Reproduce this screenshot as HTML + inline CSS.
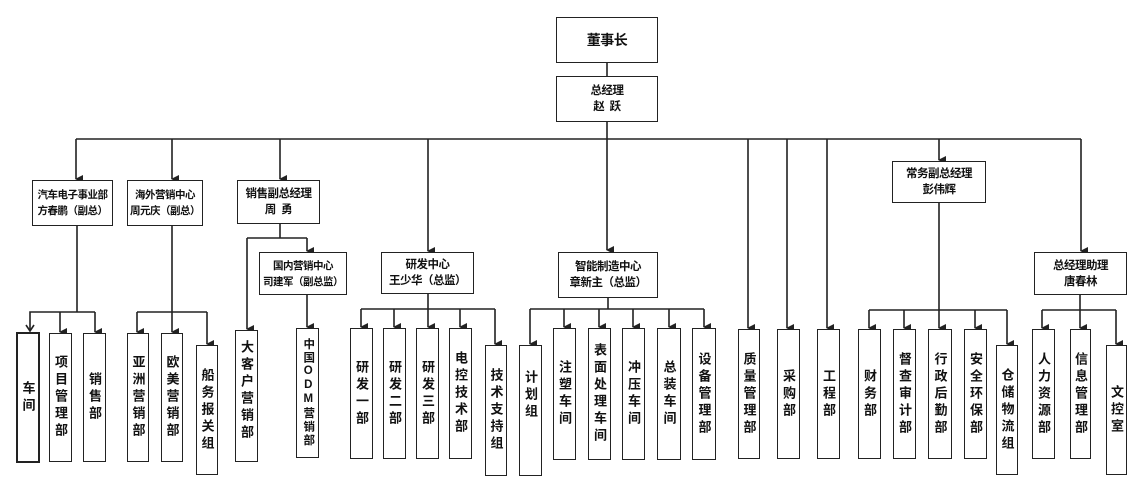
<!DOCTYPE html>
<html><head><meta charset="utf-8"><style>
body{margin:0;width:1145px;height:494px;background:#fff;position:relative;overflow:hidden;font-family:"Liberation Sans","Noto Sans CJK SC",sans-serif;color:#111}
svg{position:absolute;left:0;top:0}
.h{position:absolute;border:1.6px solid #222;box-sizing:border-box;display:flex;flex-direction:column;align-items:center;justify-content:center;font-size:11.5px;font-weight:bold;line-height:16px;text-align:center;background:#fff;white-space:nowrap;letter-spacing:-0.5px}
.l{position:absolute;border:1.6px solid #222;box-sizing:border-box;display:flex;align-items:center;justify-content:center;background:#fff}
.l span{writing-mode:vertical-rl;text-orientation:upright;font-size:13px;font-weight:bold;letter-spacing:4px;line-height:1}
</style></head><body>
<svg width="1145" height="494" viewBox="0 0 1145 494">
<defs><marker id="a" markerWidth="8" markerHeight="8" refX="4" refY="7" orient="auto" markerUnits="userSpaceOnUse"><path d="M0,0 L8,0 L4,8 z" fill="#222"/></marker></defs>
<g stroke="#222" stroke-width="1.6" fill="none">
<line x1="607" y1="63" x2="607" y2="76"/>
<line x1="607" y1="122" x2="607" y2="250" marker-end="url(#a)"/>
<line x1="76" y1="139" x2="1081" y2="139"/>
<line x1="76" y1="139" x2="76" y2="179" marker-end="url(#a)"/>
<line x1="172" y1="139" x2="172" y2="179" marker-end="url(#a)"/>
<line x1="280" y1="139" x2="280" y2="179" marker-end="url(#a)"/>
<line x1="428" y1="139" x2="428" y2="251" marker-end="url(#a)"/>
<line x1="748" y1="139" x2="748" y2="328" marker-end="url(#a)"/>
<line x1="787" y1="139" x2="787" y2="328" marker-end="url(#a)"/>
<line x1="827" y1="139" x2="827" y2="328" marker-end="url(#a)"/>
<line x1="939" y1="139" x2="939" y2="160" marker-end="url(#a)"/>
<line x1="1081" y1="139" x2="1081" y2="251" marker-end="url(#a)"/>
<line x1="77" y1="226" x2="77" y2="312"/>
<polyline points="30,331 30,312 95,312"/>
<path d="M26,325 L30,331 L34,325"/>
<line x1="60" y1="312" x2="60" y2="332" marker-end="url(#a)"/>
<line x1="95" y1="312" x2="95" y2="332" marker-end="url(#a)"/>
<line x1="172" y1="226" x2="172" y2="312"/>
<line x1="137" y1="312" x2="207" y2="312"/>
<line x1="137" y1="312" x2="137" y2="332" marker-end="url(#a)"/>
<line x1="172" y1="312" x2="172" y2="332" marker-end="url(#a)"/>
<line x1="207" y1="312" x2="207" y2="344" marker-end="url(#a)"/>
<line x1="280" y1="224" x2="280" y2="238"/>
<line x1="247" y1="238" x2="307" y2="238"/>
<line x1="247" y1="238" x2="247" y2="329" marker-end="url(#a)"/>
<line x1="307" y1="238" x2="307" y2="251" marker-end="url(#a)"/>
<line x1="307" y1="295" x2="307" y2="327" marker-end="url(#a)"/>
<line x1="428" y1="294" x2="428" y2="309"/>
<line x1="361" y1="309" x2="495" y2="309"/>
<line x1="361" y1="309" x2="361" y2="327" marker-end="url(#a)"/>
<line x1="394" y1="309" x2="394" y2="327" marker-end="url(#a)"/>
<line x1="428" y1="309" x2="428" y2="327" marker-end="url(#a)"/>
<line x1="460" y1="309" x2="460" y2="327" marker-end="url(#a)"/>
<line x1="495" y1="309" x2="495" y2="344" marker-end="url(#a)"/>
<line x1="608" y1="298" x2="608" y2="309"/>
<line x1="530" y1="309" x2="704" y2="309"/>
<line x1="530" y1="309" x2="530" y2="344" marker-end="url(#a)"/>
<line x1="564" y1="309" x2="564" y2="327" marker-end="url(#a)"/>
<line x1="599" y1="309" x2="599" y2="327" marker-end="url(#a)"/>
<line x1="633" y1="309" x2="633" y2="327" marker-end="url(#a)"/>
<line x1="669" y1="309" x2="669" y2="327" marker-end="url(#a)"/>
<line x1="704" y1="309" x2="704" y2="327" marker-end="url(#a)"/>
<line x1="939" y1="203" x2="939" y2="328" marker-end="url(#a)"/>
<line x1="869" y1="310" x2="1007" y2="310"/>
<line x1="869" y1="310" x2="869" y2="328" marker-end="url(#a)"/>
<line x1="904" y1="310" x2="904" y2="328" marker-end="url(#a)"/>
<line x1="975" y1="310" x2="975" y2="328" marker-end="url(#a)"/>
<line x1="1007" y1="310" x2="1007" y2="344" marker-end="url(#a)"/>
<line x1="1080" y1="295" x2="1080" y2="310"/>
<line x1="1042" y1="310" x2="1116" y2="310"/>
<line x1="1042" y1="310" x2="1042" y2="328" marker-end="url(#a)"/>
<line x1="1080" y1="310" x2="1080" y2="328" marker-end="url(#a)"/>
<line x1="1116" y1="310" x2="1116" y2="344" marker-end="url(#a)"/>
</g></svg>

<div class="h" style="left:556px;top:17px;width:102px;height:46px;font-size:14px">董事长</div>
<div class="h" style="left:556px;top:76px;width:102px;height:46px">总经理<br>赵&nbsp;&nbsp;跃</div>
<div class="h" style="left:32px;top:180px;width:81px;height:46px;font-size:10.5px">汽车电子事业部<br>方春鹏（副总）</div>
<div class="h" style="left:127px;top:180px;width:76px;height:46px;font-size:10.5px">海外营销中心<br>周元庆（副总）</div>
<div class="h" style="left:237px;top:180px;width:83px;height:44px">销售副总经理<br>周&nbsp;&nbsp;勇</div>
<div class="h" style="left:259px;top:252px;width:88px;height:43px;font-size:10.5px">国内营销中心<br>司建军（副总监）</div>
<div class="h" style="left:381px;top:252px;width:93px;height:42px">研发中心<br>王少华（总监）</div>
<div class="h" style="left:558px;top:252px;width:100px;height:46px">智能制造中心<br>章新主（总监）</div>
<div class="h" style="left:892px;top:161px;width:94px;height:42px">常务副总经理<br>彭伟辉</div>
<div class="h" style="left:1034px;top:252px;width:93px;height:43px">总经理助理<br>唐春林</div>

<div class="l" style="left:16px;top:332px;width:24px;height:131px;border-width:2.4px"><span>车间</span></div>
<div class="l" style="left:49px;top:333px;width:23px;height:129px"><span>项目管理部</span></div>
<div class="l" style="left:83px;top:333px;width:23px;height:129px"><span>销售部</span></div>
<div class="l" style="left:127px;top:333px;width:22px;height:129px"><span>亚洲营销部</span></div>
<div class="l" style="left:161px;top:333px;width:22px;height:129px"><span>欧美营销部</span></div>
<div class="l" style="left:196px;top:345px;width:22px;height:130px"><span>船务报关组</span></div>
<div class="l" style="left:235px;top:330px;width:23px;height:132px"><span style="margin-bottom:10px">大客户营销部</span></div>
<div class="l" style="left:296px;top:328px;width:23px;height:130px"><span style="letter-spacing:2px;font-size:11.5px">中国ODM营销部</span></div>
<div class="l" style="left:350px;top:328px;width:23px;height:131px"><span>研发一部</span></div>
<div class="l" style="left:383px;top:328px;width:23px;height:131px"><span>研发二部</span></div>
<div class="l" style="left:416px;top:328px;width:23px;height:131px"><span>研发三部</span></div>
<div class="l" style="left:449px;top:328px;width:23px;height:131px"><span>电控技术部</span></div>
<div class="l" style="left:485px;top:345px;width:22px;height:131px"><span>技术支持组</span></div>
<div class="l" style="left:519px;top:345px;width:23px;height:131px"><span style="margin-bottom:30px">计划组</span></div>
<div class="l" style="left:553px;top:328px;width:23px;height:132px"><span>注塑车间</span></div>
<div class="l" style="left:588px;top:328px;width:23px;height:132px"><span>表面处理车间</span></div>
<div class="l" style="left:622px;top:328px;width:23px;height:132px"><span>冲压车间</span></div>
<div class="l" style="left:657px;top:328px;width:24px;height:132px"><span>总装车间</span></div>
<div class="l" style="left:692px;top:328px;width:24px;height:132px"><span>设备管理部</span></div>
<div class="l" style="left:738px;top:329px;width:22px;height:130px"><span>质量管理部</span></div>
<div class="l" style="left:777px;top:329px;width:23px;height:130px"><span>采购部</span></div>
<div class="l" style="left:817px;top:329px;width:23px;height:130px"><span>工程部</span></div>
<div class="l" style="left:858px;top:329px;width:23px;height:130px"><span>财务部</span></div>
<div class="l" style="left:893px;top:329px;width:23px;height:130px"><span>督查审计部</span></div>
<div class="l" style="left:928px;top:329px;width:24px;height:130px"><span>行政后勤部</span></div>
<div class="l" style="left:964px;top:329px;width:23px;height:130px"><span>安全环保部</span></div>
<div class="l" style="left:996px;top:345px;width:22px;height:130px"><span>仓储物流组</span></div>
<div class="l" style="left:1032px;top:329px;width:23px;height:130px"><span>人力资源部</span></div>
<div class="l" style="left:1070px;top:329px;width:21px;height:130px"><span>信息管理部</span></div>
<div class="l" style="left:1106px;top:345px;width:21px;height:130px"><span>文控室</span></div>
</body></html>
